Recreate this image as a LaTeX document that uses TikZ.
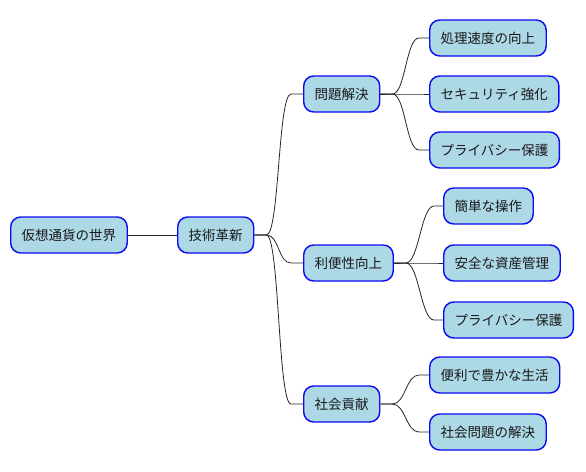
\documentclass[tikz,border=0pt]{standalone}
\usepackage{fontspec}
\newfontfamily\cjk{Noto Sans CJK JP}
\definecolor{boxfill}{HTML}{ADD8E6}
\definecolor{boxline}{HTML}{0A0AF5}
\tikzset{
  mmbox/.style={draw=boxline, fill=boxfill, line width=1.4pt, rounded corners=10pt,
    minimum height=36pt, inner xsep=11pt, inner ysep=0pt, anchor=west,
    font=\cjk\fontsize{13.5}{16}\selectfont, text=black!90},
  link/.style={draw=black!85, line width=0.8pt}
}
\newcommand{\mmlink}[3]{% parent, child, child stub
  \draw[link] (#1.east) -- ++(12,0) .. controls +(13,0) and +(-13,0) .. ([xshift=-#3pt]#2.west) -- (#2.west);}
\begin{document}
\begin{tikzpicture}[x=1pt,y=-1pt]
\useasboundingbox (0,0) rectangle (586,471);
\node[mmbox] (root) at (10,235) {仮想通貨の世界};
\node[mmbox] (tech) at (177,235) {技術革新};
\node[mmbox] (prob) at (303,94) {問題解決};
\node[mmbox] (conv) at (303,263) {利便性向上};
\node[mmbox] (soc) at (303,404) {社会貢献};
\node[mmbox] (p1) at (429,38) {処理速度の向上};
\node[mmbox] (p2) at (429,94) {セキュリティ強化};
\node[mmbox] (p3) at (429,150) {プライバシー保護};
\node[mmbox] (c1) at (443,206) {簡単な操作};
\node[mmbox] (c2) at (443,263) {安全な資産管理};
\node[mmbox] (c3) at (443,320) {プライバシー保護};
\node[mmbox] (s1) at (429,375) {便利で豊かな生活};
\node[mmbox] (s2) at (429,432) {社会問題の解決};
\draw[link] (root) -- (tech);
\mmlink{tech}{prob}{12}
\mmlink{tech}{conv}{12}
\mmlink{tech}{soc}{12}
\mmlink{prob}{p1}{10}
\mmlink{prob}{p2}{10}
\mmlink{prob}{p3}{10}
\mmlink{conv}{c1}{9}
\mmlink{conv}{c2}{9}
\mmlink{conv}{c3}{9}
\mmlink{soc}{s1}{10}
\mmlink{soc}{s2}{10}
\end{tikzpicture}
\end{document}
